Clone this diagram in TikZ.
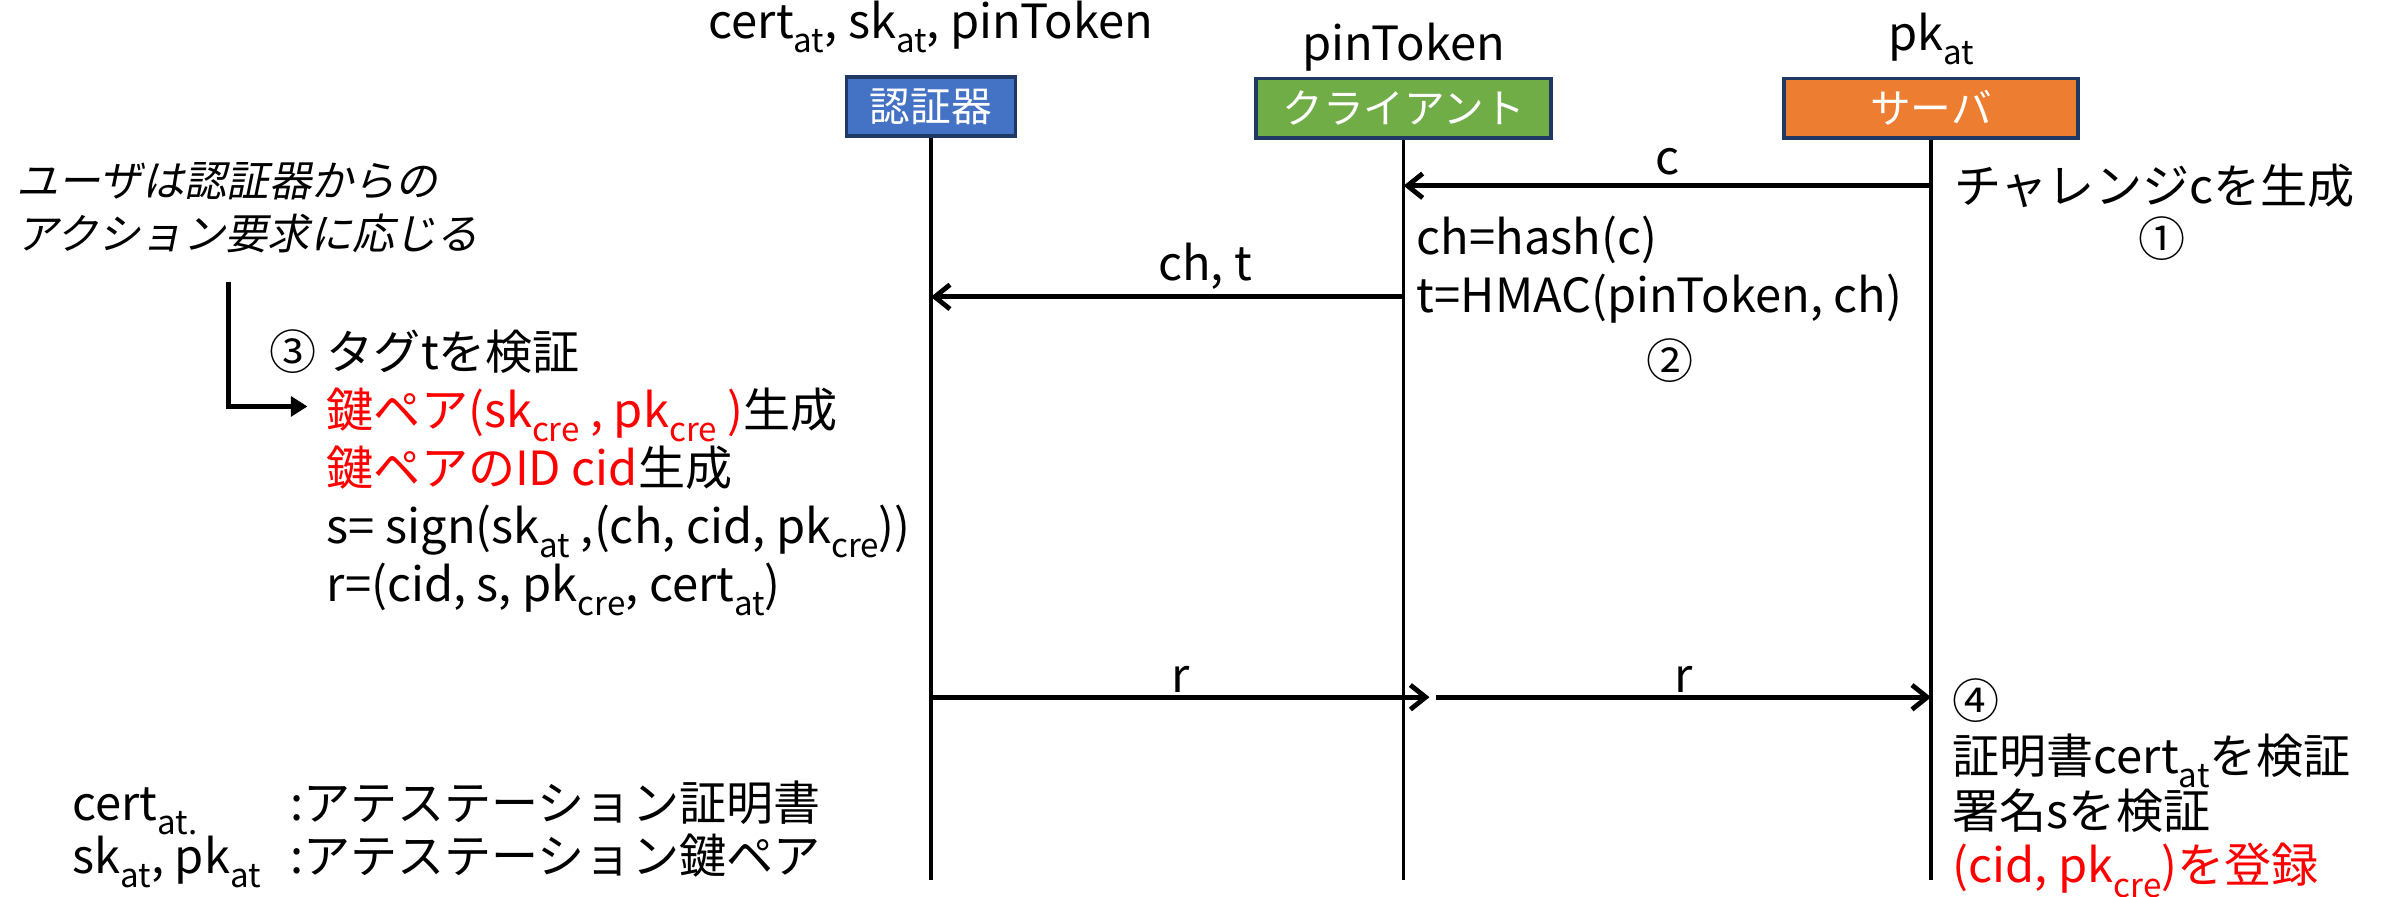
\documentclass[tikz,border=0pt]{standalone}
\usepackage{fontspec}
\setmainfont{Noto Sans CJK JP}
\newfontfamily\jpslant[FakeSlant=0.2]{Noto Sans CJK JP}
\usetikzlibrary{positioning,arrows.meta}

\definecolor{authblue}{HTML}{4472C4}
\definecolor{clientgreen}{HTML}{70AD47}
\definecolor{serverorange}{HTML}{ED7D31}
\definecolor{boxedge}{HTML}{1F3864}
\definecolor{keyred}{HTML}{FF0000}

\newcommand{\lowsub}[1]{\raisebox{-0.55ex}{\fontsize{6.2}{6.2}\selectfont #1}}
\newcommand{\keytxt}[1]{\textcolor{keyred}{#1}}

\tikzset{
  actor/.style={draw=boxedge,line width=0.7pt,text=white,inner sep=0pt,
    minimum height=0.39cm,font=\fontsize{7.6}{9}\selectfont},
  lifeline/.style={line width=0.6pt},
  msg/.style={line width=0.9pt,-{Straight Barb[length=1mm,width=1.6mm]}},
  txt/.style={inner sep=0pt,align=left,font=\fontsize{8.8}{10.85}\selectfont},
}

\begin{document}
\begin{tikzpicture}
\useasboundingbox (0,0) rectangle (15.68,-5.89);

\node[actor,fill=authblue,minimum width=1.11cm] (auth) at (6.115,-0.70) {認証器};
\node[actor,fill=clientgreen,minimum width=1.94cm] (client) at (9.22,-0.71) {クライアント};
\node[actor,fill=serverorange,minimum width=1.93cm] (server) at (12.685,-0.71) {サーバ};

\node[txt,above=0.14cm of auth] (authkeys) {cert\lowsub{at}, sk\lowsub{at}, pinToken};
\node[txt,above=0.03cm of client] (clientkeys) {pinToken};
\node[txt,above=0.07cm of server] (serverkeys) {pk\lowsub{at}};

\coordinate (authend) at (auth |- 0,-5.78);
\coordinate (clientend) at (client |- 0,-5.78);
\coordinate (serverend) at (server |- 0,-5.78);
\draw[lifeline] (auth.south) -- (authend);
\draw[lifeline] (client.south) -- (clientend);
\draw[lifeline] (server.south) -- (serverend);

\coordinate (c-from) at (server |- 0,-1.22);
\coordinate (c-to) at (client |- 0,-1.22);
\coordinate (cht-from) at (client |- 0,-1.95);
\coordinate (cht-to) at (auth |- 0,-1.95);
\coordinate (r1-from) at (auth |- 0,-4.58);
\coordinate (r1-to) at (9.39,-4.58);
\coordinate (r2-from) at (9.43,-4.58);
\coordinate (r2-to) at (server |- 0,-4.58);

\draw[msg] (c-from) -- node[txt,above=1.5pt] (c-lbl) {c} (c-to);
\draw[msg] (cht-from) -- node[txt,above=1pt,pos=0.42] (cht-lbl) {ch, t} (cht-to);
\draw[msg] (r1-from) -- node[txt,above=0.5pt] (r1-lbl) {r} (r1-to);
\draw[msg] (r2-from) -- node[txt,above=0.5pt] (r2-lbl) {r} (r2-to);

\node[txt,anchor=base west] (challenge) at (12.83,-1.34) {チャレンジcを生成};
\node[txt] (step1) at (14.20,-1.57) {①};

\node[txt,anchor=base west] (hmac) at (9.30,-2.05) {ch=hash(c)\\t=HMAC(pinToken, ch)};
\node[txt] (step2) at (10.97,-2.37) {②};

\node[txt,anchor=base west,font=\jpslant\fontsize{7.9}{9.96}\selectfont] (user) at (0.10,-1.64)
  {ユーザは認証器からの\\アクション要求に応じる};

\node[txt,anchor=base west] (authwork) at (2.14,-3.95)
  {\llap{③ }タグtを検証\\
   \keytxt{鍵ペア(sk\lowsub{cre} , pk\lowsub{cre} )}生成\\
   \keytxt{鍵ペアのID cid}生成\\
   s= sign(sk\lowsub{at} ,(ch, cid, pk\lowsub{cre}))\\
   r=(cid, s, pk\lowsub{cre}, cert\lowsub{at})};

\coordinate (elbowtop) at (1.50,-1.85);
\coordinate (elbowtip) at (2.02,-2.67);
\draw[line width=1pt,-{Triangle[length=1.1mm,width=1.3mm]}] (elbowtop) |- (elbowtip);

\node[txt,anchor=base west] (servwork) at (12.82,-5.80)
  {④\\[-0.6pt]
   証明書cert\lowsub{at}を検証\\[-0.6pt]
   署名sを検証\\[-0.6pt]
   \keytxt{(cid, pk\lowsub{cre})を登録}};

\node[txt,anchor=base west] (terms) at (0.47,-5.74) {cert\lowsub{at.}\\[-0.85pt]sk\lowsub{at}, pk\lowsub{at}};
\node[txt,anchor=base west] (termdefs) at (1.90,-5.74) {:アテステーション証明書\\[-0.85pt]:アテステーション鍵ペア};
\end{tikzpicture}
\end{document}
